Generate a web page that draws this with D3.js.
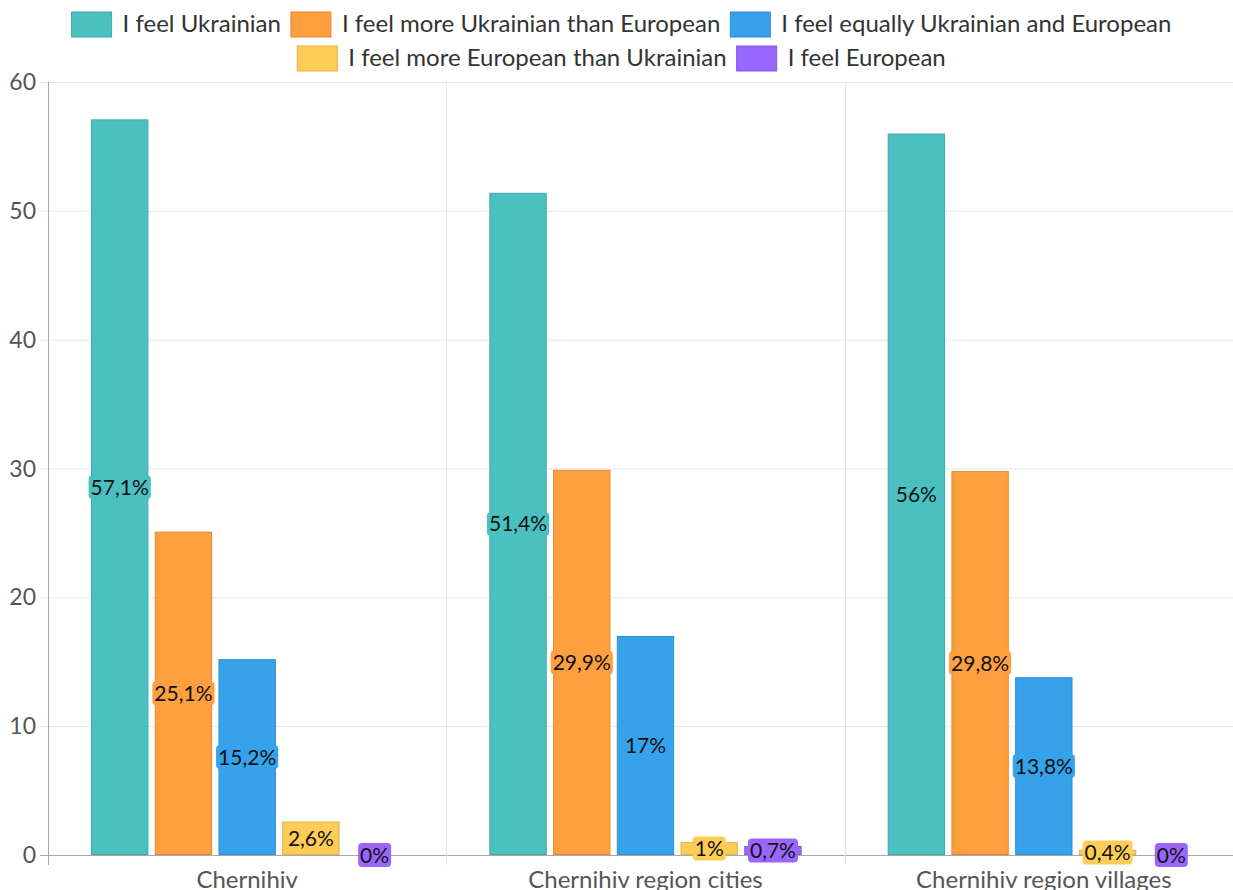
<!DOCTYPE html>
<html>
<head>
<meta charset="utf-8">
<script src="https://cdn.jsdelivr.net/npm/d3@7"></script>
<style>
  html, body { margin: 0; padding: 0; background: #fff; overflow: hidden; }
  svg { display: block; font-family: Lato, "Noto Sans", sans-serif; }
</style>
</head>
<body>
<svg id="chart" width="1233" height="890"></svg>
<script>
// Survey: national self-identification by settlement type (%)
const categories = ["Chernihiv", "Chernihiv region cities", "Chernihiv region villages"];
const seriesNames = [
  "I feel Ukrainian",
  "I feel more Ukrainian than European",
  "I feel equally Ukrainian and European",
  "I feel more European than Ukrainian",
  "I feel European"
];
const feelUkrainian      = [57.1, 51.4, 56];
const moreUkrainian      = [25.1, 29.9, 29.8];
const equally            = [15.2, 17, 13.8];
const moreEuropean       = [2.6, 1, 0.4];
const feelEuropean       = [0, 0.7, 0];
const seriesValues = [feelUkrainian, moreUkrainian, equally, moreEuropean, feelEuropean];
const yTicks = [0, 10, 20, 30, 40, 50, 60];

const fills   = ["#4bc0c0", "#ff9f40", "#36a2eb", "#ffcd56", "#9966ff"];
const borders = ["#3fa8a8", "#e08a35", "#2e8fd0", "#e0b24a", "#8555e0"];

const svg = d3.select("#chart");
const margin = { left: 48, top: 82, bottom: 855, right: 1243 };

const x0 = d3.scaleBand().domain(categories).range([margin.left, margin.right]).paddingInner(0).paddingOuter(0);
const x1 = d3.scaleBand().domain(d3.range(seriesNames.length))
  .range([0, x0.bandwidth() * 0.8]).paddingInner(0.1).paddingOuter(0.05);
const y = d3.scaleLinear().domain([0, 60]).range([margin.bottom, margin.top]);

// horizontal grid
svg.append("g").selectAll("line").data(yTicks).join("line")
  .attr("x1", margin.left - 8).attr("x2", margin.right)
  .attr("y1", d => y(d) + 0.5).attr("y2", d => y(d) + 0.5)
  .attr("stroke", d => d === 0 ? "#a8a8a8" : "#e6e6e6").attr("stroke-width", 1);

// vertical grid at category boundaries
const bounds = categories.map(c => x0(c)).concat([margin.right]);
svg.append("g").selectAll("line").data(bounds).join("line")
  .attr("x1", d => Math.round(d) + 0.5).attr("x2", d => Math.round(d) + 0.5)
  .attr("y1", margin.top).attr("y2", margin.bottom + 10)
  .attr("stroke", (d, i) => i === 0 ? "#a8a8a8" : "#e6e6e6");

// y tick labels
svg.append("g").selectAll("text").data(yTicks).join("text")
  .attr("x", 36).attr("y", d => y(d))
  .attr("dy", "0.35em").attr("text-anchor", "end")
  .attr("font-size", 23).attr("fill", "#555")
  .text(d => d);

// x category labels
svg.append("g").selectAll("text").data(categories).join("text")
  .attr("x", d => x0(d) + x0.bandwidth() / 2).attr("y", 888)
  .attr("text-anchor", "middle").attr("font-size", 24).attr("fill", "#555")
  .text(d => d);

// bars
const groups = svg.append("g").selectAll("g").data(categories).join("g")
  .attr("transform", d => `translate(${x0(d) + x0.bandwidth() * 0.1},0)`);

groups.each(function(cat, ci) {
  const g = d3.select(this);
  seriesValues.forEach((vals, si) => {
    const v = vals[ci];
    if (v > 0) {
      g.append("rect")
        .attr("x", x1(si) + 0.5).attr("width", x1.bandwidth() - 1)
        .attr("y", y(v) + 0.5).attr("height", Math.max(0, y(0) - y(v) - 1))
        .attr("fill", fills[si]).attr("stroke", borders[si]).attr("stroke-width", 1);
    }
  });
});

// value labels centred on each bar
const fmt = v => String(v).replace(".", ",") + "%";
groups.each(function(cat, ci) {
  const g = d3.select(this);
  seriesValues.forEach((vals, si) => {
    const v = vals[ci];
    const cx = x1(si) + x1.bandwidth() / 2;
    const cy = (y(v) + y(0)) / 2;
    const lab = g.append("g");
    const t = lab.append("text")
      .attr("x", cx).attr("y", cy).attr("dy", "0.36em")
      .attr("text-anchor", "middle").attr("font-size", 21)
      .attr("fill", "#111").text(fmt(v));
    const bb = t.node().getBBox();
    lab.insert("rect", "text")
      .attr("x", bb.x - 2).attr("y", cy - 12).attr("width", bb.width + 4).attr("height", 24)
      .attr("rx", 4).attr("fill", fills[si]);
  });
});

// legend, two centred rows
const rows = [[0, 1, 2], [3, 4]];
const rowY = [24, 58];
const legend = svg.append("g");
rows.forEach((items, ri) => {
  const row = legend.append("g");
  let cx = 0;
  items.forEach(si => {
    row.append("rect").attr("x", cx).attr("y", rowY[ri] - 12).attr("width", 40).attr("height", 25)
      .attr("fill", fills[si]).attr("stroke", borders[si]);
    const t = row.append("text").attr("x", cx + 51).attr("y", rowY[ri]).attr("dy", "0.35em")
      .attr("font-size", 24).attr("fill", "#333").text(seriesNames[si]);
    cx += 51 + t.node().getComputedTextLength() + 10;
  });
  const w = cx - 10;
  row.attr("transform", `translate(${(1243 - w) / 2},0)`);
});
</script>
</body>
</html>
